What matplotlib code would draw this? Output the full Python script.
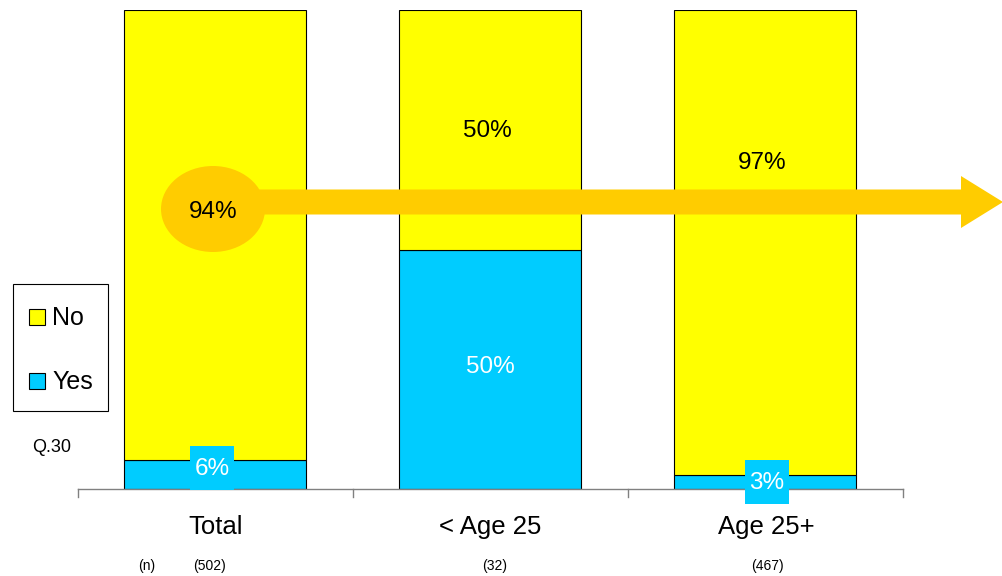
import matplotlib
matplotlib.use("Agg")
import matplotlib.pyplot as plt
from matplotlib.patches import Ellipse, FancyArrow, Rectangle

plt.rcParams['font.family'] = ['Liberation Sans', 'DejaVu Sans']

categories = ["Total", "< Age 25", "Age 25+"]
sample_sizes = ["(502)", "(32)", "(467)"]
yes_pct = [6, 50, 3]
no_pct = [94, 50, 97]

YELLOW = "#FFFF00"
CYAN = "#00CCFF"
ORANGE = "#FFCC00"

W, H = 1003, 576
fig = plt.figure(figsize=(W / 100, H / 100), dpi=100)
ax = fig.add_axes([78 / W, (H - 489) / H, 825 / W, 479 / H])
ax.set_xlim(-0.5, 2.5)
ax.set_ylim(0, 100)
ax.axis("off")

x = list(range(len(categories)))
bw = 182 / 275
ax.bar(x, yes_pct, width=bw, color=CYAN, edgecolor="black", linewidth=0.8, zorder=2)
ax.bar(x, no_pct, width=bw, bottom=yes_pct, color=YELLOW, edgecolor="black",
       linewidth=0.8, zorder=2)

# baseline with category ticks
ax.plot([-0.5, 2.5], [0, 0], color="#808080", lw=1, clip_on=False, zorder=3)
for t in [-0.5, 0.5, 1.5, 2.5]:
    ax.plot([t, t], [0, -1.7], color="#808080", lw=1, clip_on=False, zorder=3)


def fx(px):
    return px / W


def fy(py):
    return 1 - py / H


LABEL_FS = 17.5

# arrow across the chart with an ellipse around the total "No" value
arrow = FancyArrow(fx(250), fy(202), fx(1003) - fx(250), 0,
                   width=25 / H, head_width=52 / H, head_length=42 / W,
                   length_includes_head=True, color=ORANGE, lw=0,
                   transform=fig.transFigure, zorder=5)
fig.add_artist(arrow)
ell = Ellipse((fx(213), fy(209)), 104 / W, 86 / H, color=ORANGE, lw=0,
              transform=fig.transFigure, zorder=5)
fig.add_artist(ell)
fig.text(fx(213), fy(212), f"{no_pct[0]}%", ha="center", va="center",
         fontsize=LABEL_FS, color="black", zorder=6)

# No labels on the remaining bars
no_label_y = [None, 131, 163]
for i in (1, 2):
    fig.text(fx([215, 487, 762][i]), fy(no_label_y[i]), f"{no_pct[i]}%",
             ha="center", va="center", fontsize=LABEL_FS, color="black", zorder=4)

# Yes labels
fig.text(fx(490), fy(367), f"{yes_pct[1]}%", ha="center", va="center",
         fontsize=LABEL_FS, color="white", zorder=4)
small_pos = {0: (212, 468), 2: (767, 482)}
for i, (cx, cy) in small_pos.items():
    fig.add_artist(Rectangle((fx(cx - 22), fy(cy + 22)), 44 / W, 44 / H,
                             fc=CYAN, ec="none", transform=fig.transFigure, zorder=4))
    fig.text(fx(cx), fy(cy + 1), f"{yes_pct[i]}%", ha="center", va="center",
             fontsize=LABEL_FS, color="white", zorder=5)

# category labels and sample sizes
for i, c in enumerate(categories):
    fig.text(fx([216, 490, 766][i]), fy(527), c, ha="center", va="center", fontsize=18.5)
for i, n in enumerate(sample_sizes):
    fig.text(fx([210, 495, 767][i]), fy(566), n, ha="center", va="center", fontsize=10)
fig.text(fx(147), fy(566), "(n)", ha="center", va="center", fontsize=10)

# legend
fig.add_artist(Rectangle((fx(13), fy(411)), 95 / W, 127 / H, fill=False,
                         ec="black", lw=0.8, transform=fig.transFigure))
for py, col, lab in [(317, YELLOW, "No"), (381, CYAN, "Yes")]:
    fig.add_artist(Rectangle((fx(29), fy(py + 8)), 16 / W, 16 / H, fc=col,
                             ec="black", lw=0.8, transform=fig.transFigure))
    fig.text(fx(52), fy(py + 1), lab, ha="left", va="center", fontsize=18)

fig.text(fx(52), fy(448), "Q.30", ha="center", va="center", fontsize=13)

fig.savefig("out.png", dpi=100)
